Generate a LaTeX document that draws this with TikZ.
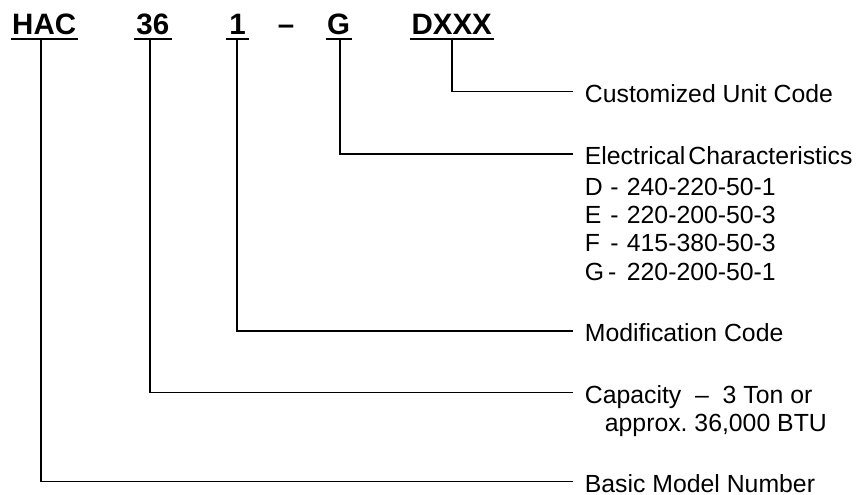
\documentclass[tikz,border=0pt]{standalone}
\usepackage{fontspec}
\setmainfont{Liberation Sans}
\frenchspacing
\begin{document}
\begin{tikzpicture}[x=1pt,y=-1pt,line width=1.8pt,
  code/.style={font=\fontsize{29.5}{30}\selectfont\bfseries,inner sep=0pt,anchor=base},
  lbl/.style={font=\fontsize{24.8}{28}\selectfont,inner sep=0pt,anchor=base west},
  uline/.style={line width=2pt},
  conn/.style={line width=1.8pt}]
\useasboundingbox (0,0) rectangle (862,495);
% code parts
\node[code,minimum width=65pt] (hac) at (44.2,35) {HAC};
\node[code,minimum width=35.7pt] (c36) at (152.8,35) {36};
\node[code,minimum width=21.6pt] (c1) at (237.5,35) {1};
\node[code] (dash) at (286,35) {–};
\node[code,minimum width=24pt] (cg) at (338.7,35) {G};
\node[code,minimum width=82pt] (dx) at (451.7,35) {DXXX};
\foreach \n in {hac,c36,c1,cg,dx}
  \draw[uline] ([yshift=-4.5pt]\n.base west) -- ([yshift=-4.5pt]\n.base east);
% labels
\node[lbl] (cust) at (584,102) {Customized Unit Code};
\node[lbl] (elec) at (584,164.5) {Electrical\hspace{3pt}Characteristics};
\node[lbl] (ed) at (584,195) {\makebox[42pt][l]{\makebox[25.5pt][l]{D}-}240-220-50-1};
\node[lbl] (ee) at (584,223.3) {\makebox[42pt][l]{\makebox[25.5pt][l]{E}-}220-200-50-3};
\node[lbl] (ef) at (584,251.7) {\makebox[42pt][l]{\makebox[25.5pt][l]{F}-}415-380-50-3};
\node[lbl] (eg) at (584,280) {\makebox[42pt][l]{G\hspace{4pt}-}220-200-50-1};
\node[lbl] (mod) at (584,341.5) {Modification Code};
\node[lbl] (cap) at (584,403) {Capacity\ \ –\ \ 3 Ton or};
\node[lbl] (capb) at (604,431.5) {approx. 36,000 BTU};
\node[lbl] (basic) at (584,492) {Basic Model Number};
% connectors
\draw[conn] ([xshift=0.3pt,yshift=-4.5pt]dx.base) |- ([shift={(-11.5pt,10.5pt)}]cust.base west);
\draw[conn] ([xshift=1.3pt,yshift=-4.5pt]cg.base) |- ([shift={(-11.5pt,10.5pt)}]elec.base west);
\draw[conn] ([xshift=-0.5pt,yshift=-4.5pt]c1.base) |- ([shift={(-11.5pt,10.5pt)}]mod.base west);
\draw[conn] ([xshift=-2.8pt,yshift=-4.5pt]c36.base) |- ([shift={(-11.5pt,10.5pt)}]cap.base west);
\draw[conn] ([xshift=-3.2pt,yshift=-4.5pt]hac.base) |- ([shift={(-11.5pt,10.5pt)}]basic.base west);
\end{tikzpicture}
\end{document}
